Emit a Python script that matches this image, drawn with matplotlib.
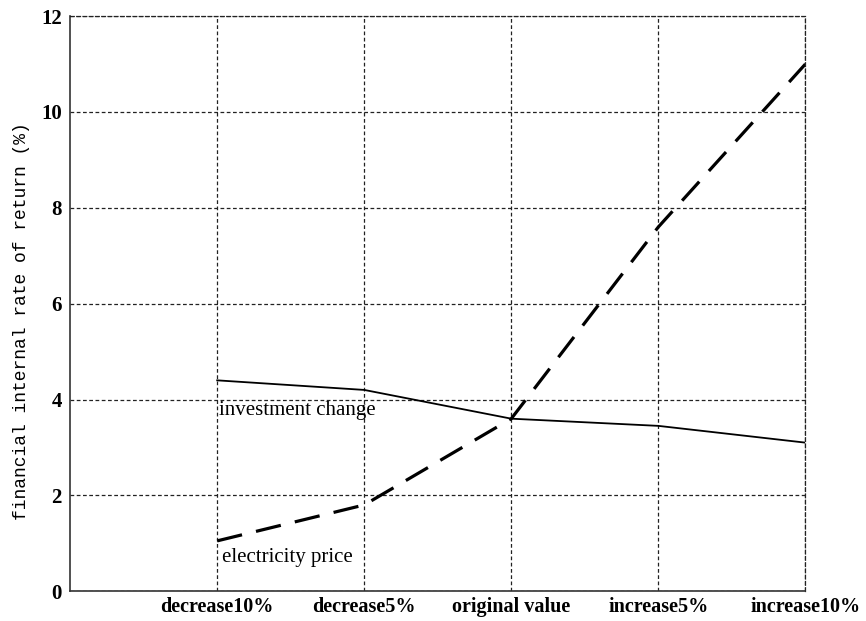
import numpy as np
import matplotlib.pyplot as plt

# Sensitivity analysis data
categories = ['decrease10%', 'decrease5%', 'original value', 'increase5%', 'increase10%']
investment_change = [4.4, 4.2, 3.6, 3.45, 3.1]
electricity_price = [1.05, 1.8, 3.6, 7.6, 11.0]
y_ticks = [0, 2, 4, 6, 8, 10, 12]

x = np.arange(1, len(categories) + 1)

fig = plt.figure(figsize=(8.66, 6.21), dpi=100)
ax = fig.add_axes([0.081, 0.048, 0.849, 0.926])

ax.plot(x, investment_change, color='black', lw=1.3)
ax.plot(x, electricity_price, color='black', lw=2.3, dashes=(8, 4.5))

ax.set_xlim(0, 5)
ax.set_ylim(0, 12)
ax.set_xticks(x)
ax.set_xticklabels(categories, fontfamily='Liberation Serif', fontweight='bold', fontsize=14.5)
ax.set_yticks(y_ticks)
ax.set_yticklabels([str(v) for v in y_ticks], fontfamily='Liberation Serif',
                   fontweight='bold', fontsize=15)
ax.tick_params(axis='y', length=0, pad=6)
ax.tick_params(axis='x', length=0, pad=4)

ax.grid(True, color='#222222', ls=(0, (3, 2)), lw=0.9)
for side in ['top', 'right']:
    ax.spines[side].set_linestyle((0, (3, 2)))
    ax.spines[side].set_linewidth(0.9)
    ax.spines[side].set_color('#222222')
for side in ['left', 'bottom']:
    ax.spines[side].set_linewidth(1.2)
    ax.spines[side].set_color('#333333')

ax.set_ylabel('financial internal rate of return (%)', fontfamily='Liberation Mono',
              fontsize=13)
ax.yaxis.set_label_coords(-0.054, 0.47)

ax.text(1.01, 3.67, 'investment change', fontfamily='Liberation Serif', fontsize=15,
        va='baseline', ha='left')
ax.text(1.03, 0.61, 'electricity price', fontfamily='Liberation Serif', fontsize=15,
        va='baseline', ha='left')

fig.savefig('out.png', dpi=100)
